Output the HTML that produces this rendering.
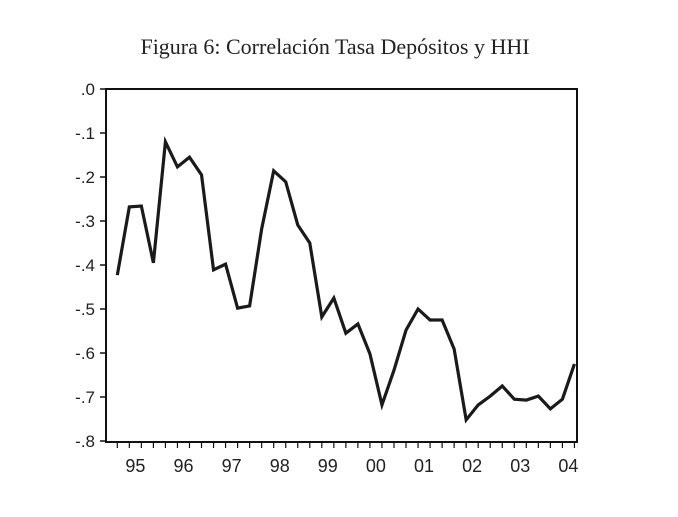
<!DOCTYPE html>
<html><head><meta charset="utf-8"><style>
body{margin:0;background:#fff;}
svg{display:block;font-family:"Liberation Sans",sans-serif;}
</style></head><body>
<svg width="678" height="517">
<text x="335" y="54" text-anchor="middle" font-family="Liberation Serif, serif" font-size="22" fill="#222">Figura 6: Correlación Tasa Depósitos y HHI</text>
<g id="axes"></g>
<rect x="106" y="89" width="471" height="353" fill="none" stroke="#111" stroke-width="2"/>
<polyline id="line" fill="none" stroke="#1a1a1a" stroke-width="3.2" stroke-linejoin="miter"/>
</svg>
<script>
const values=[-0.423,-0.268,-0.266,-0.395,-0.12,-0.177,-0.155,-0.195,-0.411,-0.398,-0.498,-0.493,-0.318,-0.186,-0.211,-0.309,-0.35,-0.518,-0.475,-0.555,-0.534,-0.602,-0.718,-0.639,-0.548,-0.5,-0.525,-0.525,-0.591,-0.752,-0.718,-0.698,-0.675,-0.705,-0.707,-0.698,-0.727,-0.705,-0.625];
const yTicks=[0,-0.1,-0.2,-0.3,-0.4,-0.5,-0.6,-0.7,-0.8];
const yTickLabels=[".0","-.1","-.2","-.3","-.4","-.5","-.6","-.7","-.8"];
const yearLabels=["95","96","97","98","99","00","01","02","03","04"];
const NS="http://www.w3.org/2000/svg";
function y(v){return 89-v*440;}
function x(i){return 117.3+12.03*i;}
const g=document.getElementById('axes');
function mk(t,a){const e=document.createElementNS(NS,t);for(const k in a)e.setAttribute(k,a[k]);return e;}
yTicks.forEach((v,i)=>{
 const l=mk('line',{x1:100,x2:106,y1:y(v),y2:y(v),stroke:'#111','stroke-width':1.5});
 
 
 g.appendChild(l);
 const t=mk('text',{x:95,y:y(v)+6,'text-anchor':'end','font-size':17,fill:'#222'});
 
 
 t.textContent=yTickLabels[i];g.appendChild(t);
});
values.forEach((v,i)=>{
 const l=mk('line',{x1:x(i),x2:x(i),y1:442,y2:448,stroke:'#111','stroke-width':1.2});
 
 
 g.appendChild(l);
});
yearLabels.forEach((s,k)=>{
 const t=mk('text',{x:x(4*k+1.5),y:472,'text-anchor':'middle','font-size':18,fill:'#222'});
 
 
 t.textContent=s;g.appendChild(t);
});
document.getElementById('line').setAttribute('points',values.map((v,i)=>x(i)+','+y(v)).join(' '));
</script>
</body></html>
